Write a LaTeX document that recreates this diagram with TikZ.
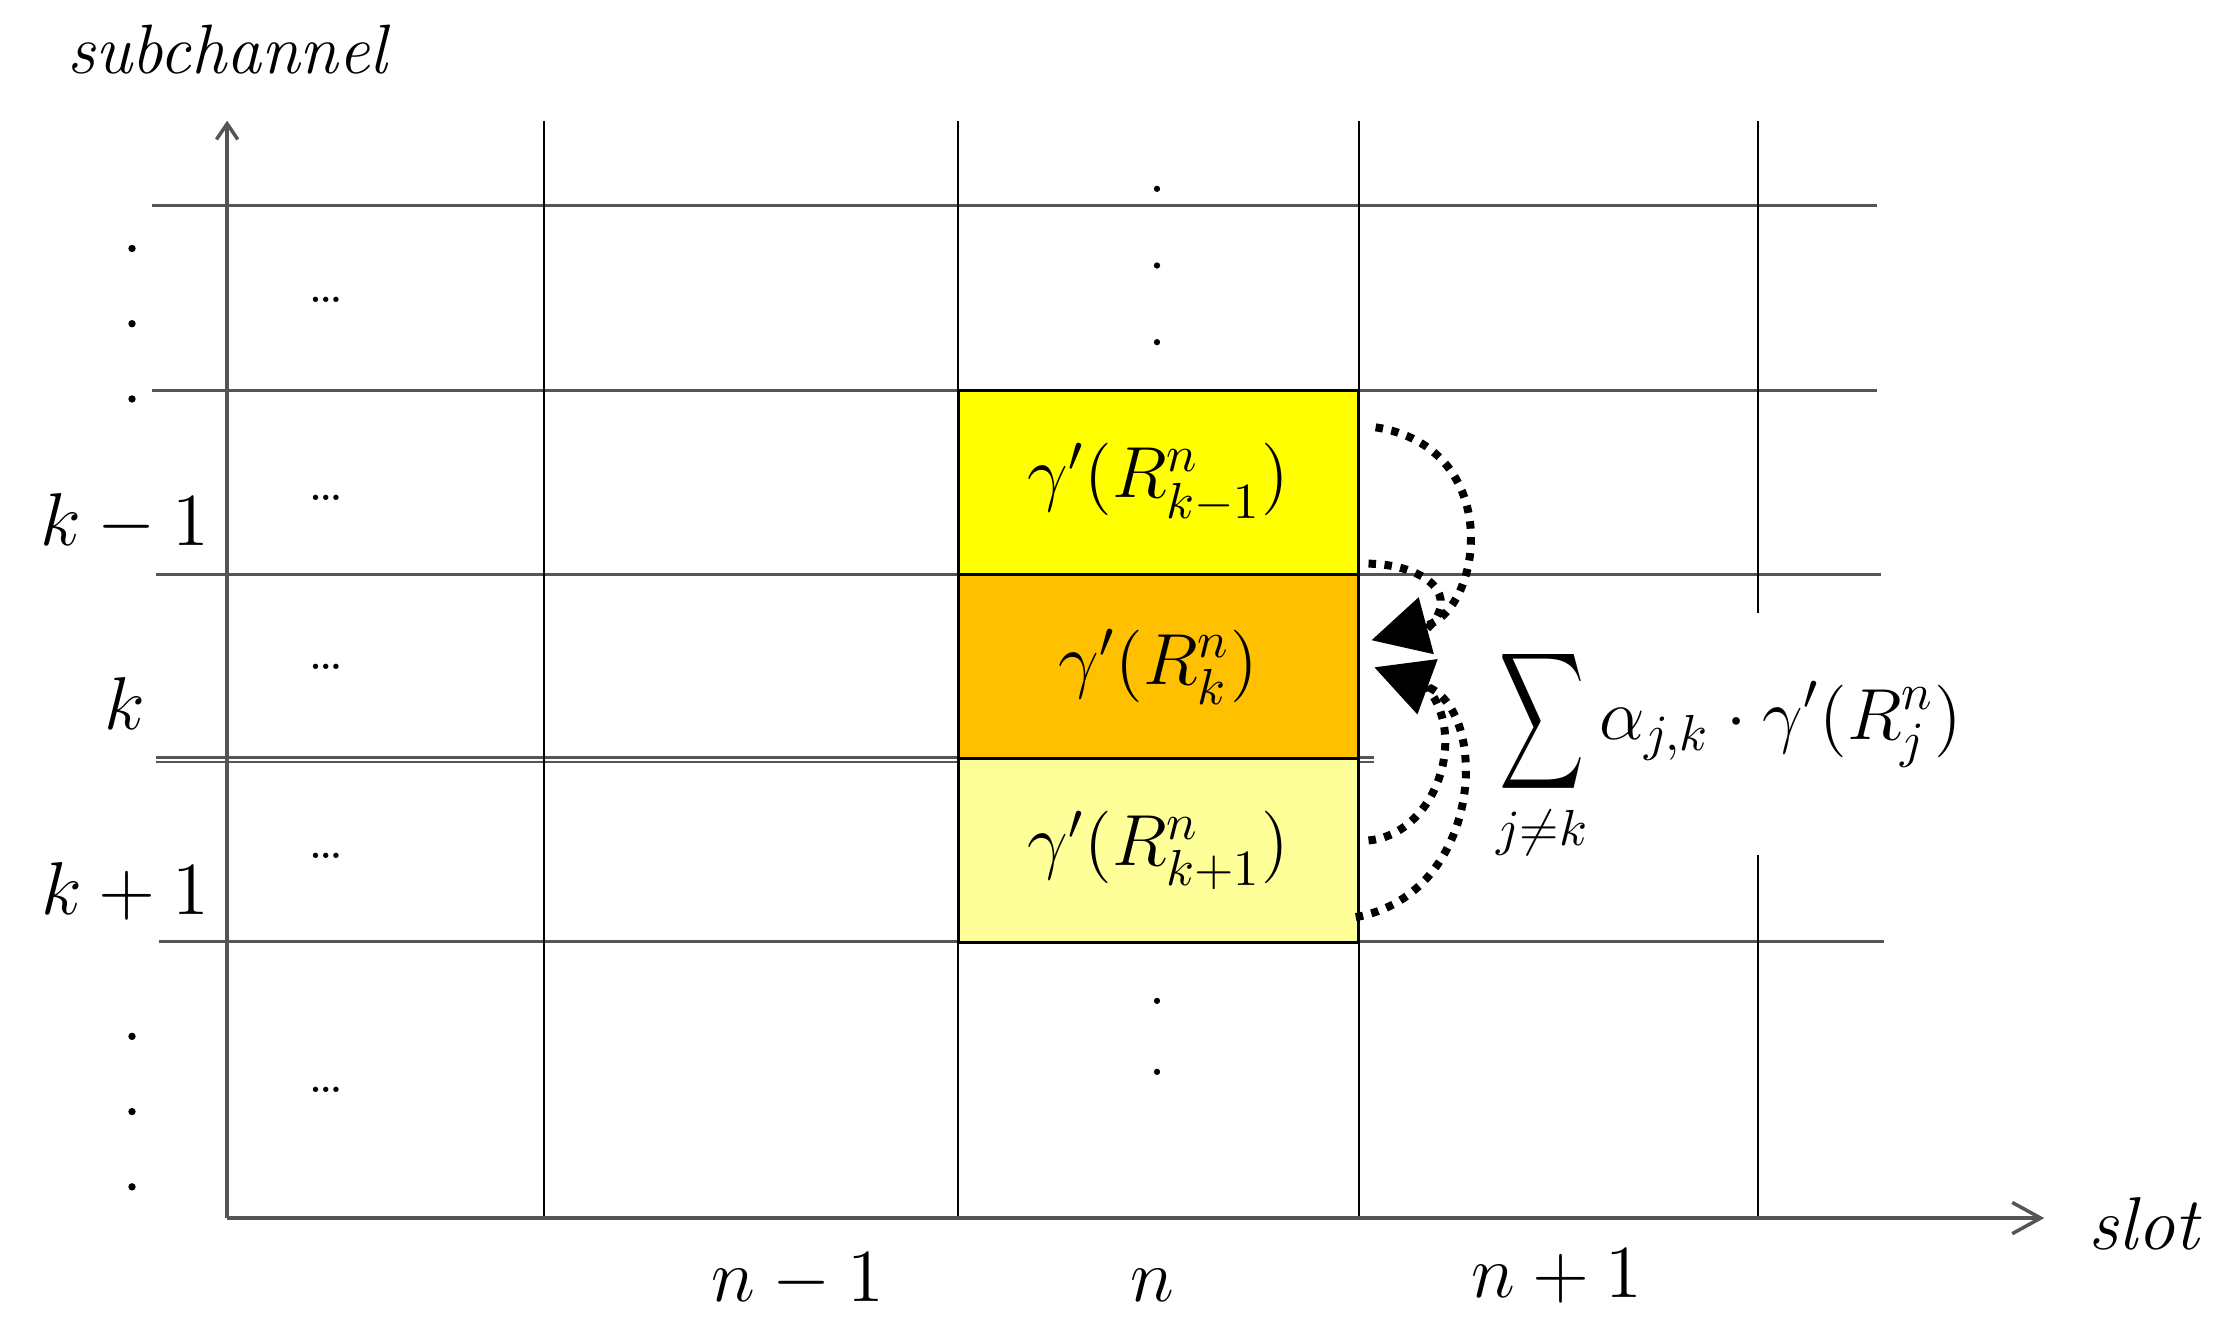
\documentclass[tikz,border=0pt]{standalone}
\usepackage{fix-cm}
\usepackage{amsmath}
\usepackage{graphicx}
\usetikzlibrary{arrows.meta,calc}
\definecolor{cellyel}{HTML}{FFFF00}
\definecolor{cellorg}{HTML}{FFC000}
\definecolor{celllt}{HTML}{FFFF99}
\definecolor{gridgray}{HTML}{555555}
\begin{document}
\begin{tikzpicture}[x=0.01cm,y=-0.01cm,
  hline/.style={draw=gridgray, line width=0.6pt},
  vline/.style={draw=black, line width=0.4pt},
  axisline/.style={draw=gridgray, line width=0.7pt},
  cell/.style={draw=black, line width=0.6pt, minimum width=2.82cm, minimum height=1.30cm, inner sep=0pt, font=\fontsize{14.5}{17}\selectfont},
  lbl/.style={font=\fontsize{15}{18}\selectfont, anchor=base, inner sep=0pt},
  hdots/.style={font=\fontsize{11}{13}\selectfont, inner sep=0pt},
  infl/.style={draw=black, line width=1.6pt, dash pattern=on 1.5pt off 1.7pt},
  tipped/.style={-{Triangle[length=0.40cm,width=0.40cm]}}
]
\useasboundingbox (0,0) rectangle (1568,932);

% horizontal grid lines
\draw[hline] (107,145) -- (1322,145);
\draw[hline] (107,275) -- (1322,275);
\draw[hline] (110,405) -- (1325,405);
\draw[hline, line width=0.45pt] (110,533.5) -- (968,533.5);
\draw[hline, line width=0.45pt] (110,536.5) -- (968,536.5);
\draw[hline] (112,663) -- (1327,663);

% vertical grid lines
\draw[vline] (383,85) -- (383,858);
\draw[vline] (675,85) -- (675,858);
\draw[vline] (957,85) -- (957,858);
\draw[vline] (1238,85) -- (1238,432);
\draw[vline] (1238,602) -- (1238,858);

% axes
\draw[axisline, -{Straight Barb[length=0.11cm,width=0.15cm]}] (160,858) -- (160,85);
\draw[axisline, -{Straight Barb[length=0.2cm,width=0.22cm]}] (160,858) -- (1440,858);

% highlighted cells
\node[cell, fill=cellyel] (cu) at (816,340) {$\gamma'(R^n_{k-1})$};
\node[cell, fill=cellorg] (cm) at (816,470) {$\gamma'(R^n_{k})$};
\node[cell, fill=celllt] (cl) at (816,599) {$\gamma'(R^n_{k+1})$};

% axis labels
\node[anchor=base, inner sep=0pt, font=\fontsize{14}{16}\selectfont\itshape] (sub) at (160,52) {subchannel};
\node[anchor=base, inner sep=0pt, font=\fontsize{15}{18}\selectfont\itshape] (slot) at (1510,880) {slot};

% row labels
\node[lbl] (lkm1) at (88,384) {$k-1$};
\node[lbl] (lk) at (88,514) {$k$};
\node[lbl] (lkp1) at (88,644) {$k+1$};

% column labels
\node[lbl] (lnm1) at (562,917) {$n-1$};
\node[lbl] (ln) at (812,917) {$n$};
\node[lbl] (lnp1) at (1097,914) {$n+1$};

% ellipses
\foreach \yy [count=\i] in {175,228,281,730,783,836}
  \fill (93,\yy) circle[radius=0.026cm];
\foreach \yy [count=\i] in {133,187,241,705,755}
  \fill (815,\yy) circle[radius=0.022cm];
\foreach \yy [count=\i] in {211,351,470,603,768}
  \node[hdots] (hd\i) at (230,\yy) {\ldots};

% sum formula
\node[anchor=base, inner sep=0pt, font=\fontsize{14.5}{17}\selectfont] (sumf) at (1218,521)
  {$\displaystyle \mathop{\vcenter{\hbox{\scalebox{0.82}[1.33]{$\displaystyle\sum$}}}}\limits_{j\neq k}\alpha_{j,k}\cdot\gamma'(R^n_j)$};

% interference arrows
\coordinate (sa) at (969,301);
\coordinate (sb) at (964,397);
\coordinate (mb) at (1005,443);
\coordinate (ta) at (966,451);
\coordinate (sc) at (964,592);
\coordinate (sd) at (955,646);
\coordinate (mc) at (1005,484);
\coordinate (tb) at (968,470);
\draw[infl, tipped] (sa) .. controls (1060,315) and (1045,430) .. (ta);
\draw[infl] (sb) .. controls (1005,398) and (1030,420) .. (mb);
\draw[infl, tipped] (sd) .. controls (1045,630) and (1050,500) .. (tb);
\draw[infl] (sc) .. controls (1010,588) and (1035,520) .. (mc);
\end{tikzpicture}
\end{document}
